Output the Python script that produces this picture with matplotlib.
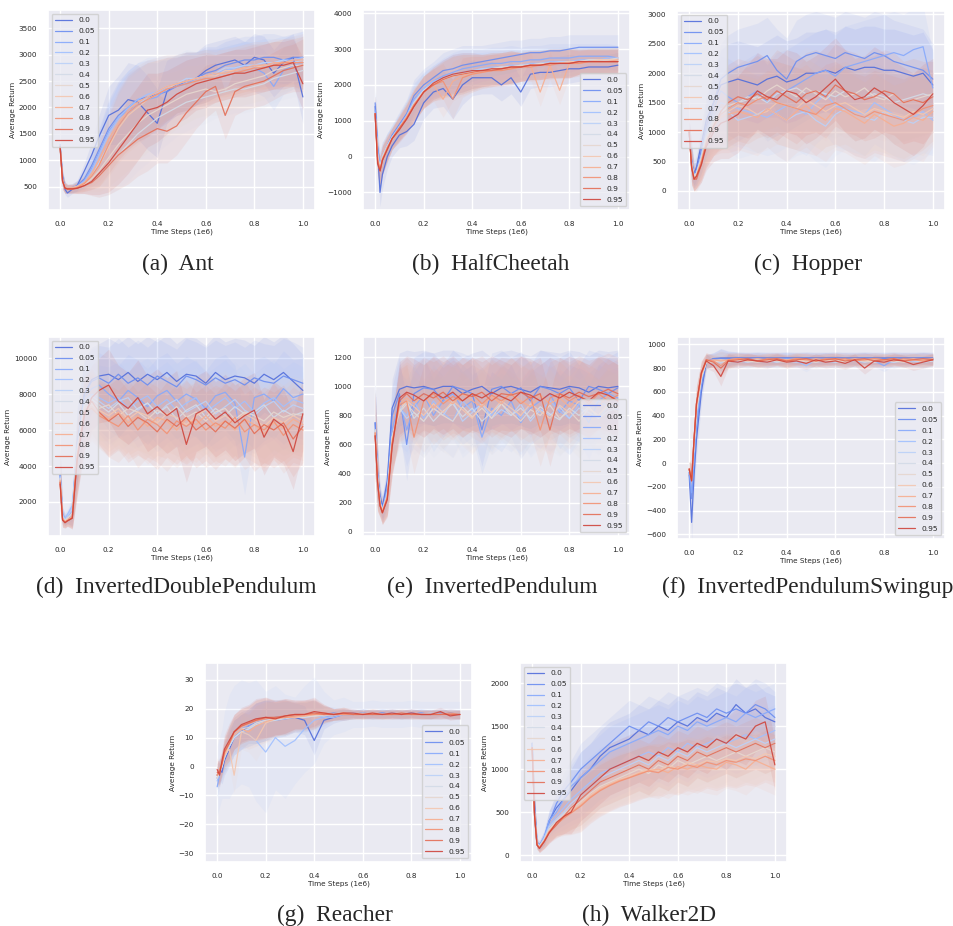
import numpy as np
import matplotlib
matplotlib.use("Agg")
import matplotlib.pyplot as plt
import seaborn as sns

sns.set_theme(style="darkgrid")
plt.rcParams['font.family'] = ['DejaVu Sans']

# training progress (1e6 steps) at which returns are logged
STEPS = [0, .01, .02, .03, .05, .07, .10, .13, .16, .20,
         .24, .28, .32, .36, .40, .44, .48, .52, .56, .60,
         .64, .68, .72, .76, .80, .84, .88, .92, .96, 1.0]

COEFS = ["0.0", "0.05", "0.1", "0.2", "0.3", "0.4",
         "0.5", "0.6", "0.7", "0.8", "0.9", "0.95"]

# ---------------- Ant ----------------
ANT = [
    [1250, 700, 450, 380, 450, 520, 800, 1100, 1450, 1850, 1950, 2150, 2100, 1900, 1700, 2300, 2450, 2500, 2550, 2700, 2800, 2850, 2900, 2800, 2950, 2900, 2650, 2850, 2950, 2200],
    [1250, 650, 480, 450, 480, 520, 650, 900, 1200, 1600, 1850, 2000, 2150, 2200, 2250, 2300, 2400, 2500, 2550, 2650, 2700, 2800, 2850, 2900, 2900, 2950, 2950, 2900, 2950, 2950],
    [1300, 650, 480, 460, 470, 500, 620, 850, 1150, 1550, 1800, 1950, 2050, 2150, 2200, 2350, 2400, 2450, 2550, 2600, 2650, 2700, 2750, 2800, 2750, 2650, 2400, 2700, 2800, 2850],
    [1300, 620, 490, 470, 480, 510, 600, 800, 1100, 1500, 1800, 2000, 2150, 2250, 2300, 2350, 2450, 2500, 2550, 2600, 2650, 2700, 2750, 2800, 2800, 2850, 2850, 2900, 2900, 2950],
    [1250, 600, 480, 460, 470, 500, 560, 700, 950, 1300, 1650, 1900, 2050, 2200, 2300, 2400, 2450, 2550, 2550, 2600, 2650, 2750, 2750, 2800, 2800, 2850, 2850, 2900, 2850, 2900],
    [1200, 600, 480, 460, 460, 480, 520, 600, 700, 900, 1100, 1300, 1500, 1650, 1800, 1900, 2000, 2100, 2150, 2200, 2250, 2300, 2350, 2350, 2400, 2450, 2550, 2600, 2650, 2700],
    [1250, 620, 480, 460, 470, 500, 540, 650, 800, 1050, 1300, 1500, 1700, 1850, 1950, 2050, 2150, 2250, 2300, 2350, 2300, 2350, 2450, 2500, 2550, 2600, 2700, 2750, 2800, 2800],
    [1250, 600, 490, 470, 480, 500, 560, 700, 900, 1250, 1600, 1850, 2000, 2150, 2250, 2350, 2450, 2500, 2550, 2600, 2600, 2700, 2700, 2750, 2750, 2800, 2800, 2850, 2850, 2850],
    [1250, 600, 490, 470, 480, 500, 580, 750, 1000, 1400, 1700, 1950, 2100, 2200, 2300, 2400, 2450, 2500, 2550, 2600, 2650, 2650, 2700, 2750, 2800, 2800, 2850, 2850, 2900, 2900],
    [1250, 600, 480, 460, 460, 480, 560, 700, 900, 1300, 1650, 1900, 2050, 2150, 2250, 2350, 2400, 2450, 2500, 2550, 2550, 2600, 2650, 2700, 2750, 2750, 2800, 2850, 2850, 2850],
    [1250, 620, 470, 450, 450, 470, 520, 580, 700, 900, 1100, 1250, 1400, 1500, 1600, 1550, 1650, 1900, 2100, 2300, 2400, 1850, 2300, 2400, 2450, 2500, 2600, 2700, 2750, 2800],
    [1250, 600, 470, 460, 460, 470, 520, 600, 750, 950, 1200, 1450, 1700, 1950, 2000, 2100, 2250, 2350, 2450, 2500, 2550, 2600, 2650, 2650, 2700, 2750, 2800, 2800, 2850, 2450],
]
ANT_SPREAD = [50, 150, 100, 80, 80, 100, 150, 250, 400, 550, 650, 700, 700, 700, 650, 600, 550, 550, 500, 500, 450, 450, 450, 450, 450, 450, 450, 450, 450, 500]

# ---------------- HalfCheetah ----------------
CHEETAH = [
    [1400, 200, -1000, -500, 0, 300, 600, 700, 900, 1500, 1800, 1900, 1600, 2000, 2200, 2200, 2200, 2000, 2200, 1800, 2300, 2350, 2350, 2400, 2450, 2450, 2500, 2500, 2500, 2550],
    [1500, 300, -300, -100, 300, 600, 900, 1200, 1700, 2000, 2200, 2400, 2450, 2550, 2600, 2650, 2700, 2750, 2800, 2850, 2900, 2900, 2950, 2950, 3000, 3050, 3050, 3050, 3050, 3050],
    [1300, 200, -200, 0, 300, 550, 850, 1150, 1600, 1900, 2100, 2250, 2350, 2450, 2500, 2550, 2600, 2600, 2650, 2650, 2700, 2700, 2750, 2750, 2750, 2800, 2800, 2800, 2800, 2750],
    [1200, 100, -300, 0, 300, 550, 850, 1150, 1550, 1900, 2100, 2200, 2300, 2350, 2400, 2450, 2500, 2500, 2550, 2550, 2600, 2600, 2650, 2650, 2650, 2700, 2700, 2700, 2750, 2750],
    [1200, 0, -300, 0, 300, 550, 800, 1100, 1500, 1850, 2050, 2200, 2300, 2350, 2400, 2450, 2450, 2500, 2500, 2550, 2550, 2600, 2600, 2650, 2650, 2650, 2700, 2700, 2700, 2700],
    [1200, 0, -300, 0, 300, 500, 800, 1100, 1500, 1850, 2050, 2150, 2250, 2300, 2350, 2400, 2450, 2450, 2500, 2500, 2550, 2550, 2600, 2600, 2600, 2650, 2650, 2650, 2700, 2700],
    [1200, 0, -400, -50, 250, 500, 800, 1100, 1450, 1800, 2000, 2150, 2250, 2300, 2350, 2400, 2450, 2500, 2500, 2550, 2550, 2600, 2600, 2600, 2650, 2650, 2700, 2700, 2700, 2750],
    [1200, 0, -400, -50, 250, 500, 800, 1100, 1450, 1800, 2050, 2150, 2250, 2300, 2350, 2400, 2450, 2450, 2500, 2500, 2550, 2550, 2600, 2600, 2650, 2650, 2650, 2700, 2700, 2700],
    [1200, 0, -400, -50, 250, 500, 800, 1100, 1450, 1800, 2000, 1600, 2100, 2250, 2300, 2350, 2400, 2450, 2450, 2500, 2550, 1800, 2550, 1850, 2600, 2600, 2650, 2650, 2650, 2700],
    [1200, -100, -400, -100, 250, 500, 800, 1100, 1450, 1800, 2000, 2100, 1600, 2200, 2300, 2350, 2400, 2400, 2450, 2500, 2500, 2550, 2550, 2600, 2600, 2600, 2650, 2650, 2650, 2650],
    [1200, -100, -400, -100, 200, 500, 800, 1050, 1400, 1800, 2000, 2150, 2250, 2300, 2350, 2400, 2400, 2450, 2500, 2500, 2550, 2550, 2600, 2600, 2600, 2650, 2650, 2650, 2650, 2650],
    [1200, -200, -400, -100, 200, 500, 750, 1050, 1400, 1800, 2050, 2200, 2300, 2350, 2400, 2400, 2450, 2450, 2500, 2500, 2550, 2550, 2600, 2600, 2600, 2650, 2650, 2650, 2650, 2650],
]
CHEETAH_SPREAD = [500, 400, 400, 400, 350, 300, 350, 400, 450, 450, 450, 500, 550, 550, 500, 450, 450, 450, 450, 400, 400, 400, 400, 400, 400, 350, 350, 350, 350, 350]

# ---------------- Hopper ----------------
HOPPER = [
    [1000, 500, 300, 400, 800, 1200, 1500, 1800, 1850, 1900, 1850, 1800, 1900, 1950, 1850, 1900, 2000, 2000, 2050, 2000, 2100, 2050, 2100, 2100, 2050, 2050, 2000, 1950, 2000, 1800],
    [1000, 500, 250, 350, 700, 1100, 1500, 1900, 2000, 2100, 2150, 2200, 2300, 2050, 1900, 2200, 2300, 2350, 2300, 2250, 2350, 2300, 2250, 2350, 2300, 2200, 2150, 2100, 2050, 1900],
    [1000, 500, 300, 300, 600, 1000, 1400, 1700, 1600, 1500, 1600, 1700, 1500, 1650, 1700, 1800, 1900, 2000, 2050, 1950, 2100, 2150, 2200, 2250, 2300, 2350, 2300, 2400, 2450, 1750],
    [1000, 450, 250, 300, 600, 1000, 1300, 1500, 1450, 1400, 1350, 1300, 1250, 1350, 1450, 1400, 1300, 1500, 1650, 1450, 1400, 1350, 1300, 1500, 1400, 1300, 1200, 1250, 1350, 1200],
    [1000, 450, 250, 300, 600, 950, 1250, 1400, 1350, 1200, 1250, 1300, 1400, 1300, 1200, 1300, 1350, 1200, 1100, 1300, 1400, 1300, 1250, 1200, 1350, 1250, 1200, 1150, 1250, 1250],
    [1000, 450, 250, 300, 550, 900, 1200, 1350, 1400, 1500, 1550, 1600, 1500, 1650, 1700, 1750, 1650, 1700, 1650, 1600, 1700, 1550, 1600, 1650, 1600, 1500, 1550, 1600, 1650, 1600],
    [1000, 450, 250, 300, 550, 900, 1200, 1300, 1450, 1500, 1600, 1550, 1700, 1800, 1700, 1600, 1750, 1650, 1550, 1700, 1600, 1650, 1750, 1600, 1550, 1650, 1500, 1550, 1600, 1650],
    [1000, 450, 200, 250, 500, 850, 1150, 1300, 1350, 1450, 1400, 1300, 1350, 1500, 1450, 1400, 1550, 1450, 1350, 1450, 1500, 1400, 1300, 1400, 1350, 1300, 1250, 1350, 1300, 1400],
    [1000, 450, 200, 250, 500, 850, 1100, 1250, 1300, 1350, 1300, 1250, 1400, 1300, 1200, 1350, 1450, 1300, 1200, 1400, 1350, 1250, 1150, 1300, 1200, 1100, 1150, 1250, 1200, 1350],
    [1000, 400, 200, 250, 500, 800, 1100, 1300, 1400, 1500, 1450, 1550, 1600, 1500, 1450, 1400, 1350, 1300, 1450, 1500, 1400, 1300, 1250, 1350, 1300, 1250, 1200, 1300, 1400, 1450],
    [1000, 400, 200, 200, 450, 800, 1100, 1350, 1500, 1600, 1550, 1650, 1550, 1700, 1600, 1500, 1650, 1700, 1600, 1800, 1700, 1650, 1550, 1600, 1700, 1650, 1500, 1550, 1500, 1600],
    [1000, 400, 200, 250, 450, 750, 1000, 1150, 1200, 1300, 1500, 1700, 1600, 1550, 1700, 1650, 1500, 1600, 1750, 1900, 1700, 1550, 1600, 1750, 1650, 1500, 1400, 1300, 1450, 1650],
]
HOPPER_SPREAD = [200, 300, 200, 200, 300, 400, 500, 600, 650, 650, 650, 650, 650, 700, 700, 700, 700, 700, 700, 700, 700, 700, 700, 700, 700, 700, 700, 700, 700, 600]

# ---------------- InvertedDoublePendulum ----------------
DOUBLE = [
    [3500, 1200, 1000, 1100, 1200, 5000, 8000, 8800, 9000, 9100, 8800, 9200, 8700, 9100, 8800, 9200, 8700, 9100, 9000, 8600, 9200, 8800, 9000, 8900, 8600, 9100, 8800, 9200, 8700, 8200],
    [3500, 1300, 1000, 1100, 1300, 5200, 8000, 8700, 8900, 8600, 9100, 8600, 8900, 8500, 9000, 8700, 8400, 9000, 8800, 8500, 8900, 8600, 8800, 8500, 8900, 8700, 8600, 9000, 8800, 8600],
    [3500, 1300, 1100, 1200, 1500, 5000, 7800, 8300, 8500, 8000, 7600, 8200, 7800, 7300, 7900, 8200, 7600, 8000, 7700, 7200, 7900, 8100, 7500, 4500, 7800, 8000, 7600, 8300, 7800, 8000],
    [3400, 1300, 1100, 1300, 1800, 5200, 7600, 8000, 7800, 7500, 7800, 7200, 7600, 7900, 7300, 7700, 7100, 7500, 7800, 7000, 7400, 7800, 7200, 7600, 7000, 7500, 7800, 7300, 7700, 7500],
    [3400, 1200, 1000, 1200, 1600, 5000, 7500, 7900, 7600, 7200, 7600, 7800, 7100, 7500, 6900, 7400, 7700, 7000, 7300, 7600, 6900, 7300, 7700, 7100, 6800, 7300, 7600, 7000, 7400, 7200],
    [3300, 1200, 1000, 1100, 1400, 4800, 7400, 7700, 7400, 7000, 7500, 6800, 7200, 7500, 6900, 7300, 6600, 7100, 7400, 6700, 7200, 6800, 7300, 6900, 7000, 7400, 6700, 7100, 6800, 7000],
    [3300, 1100, 950, 1100, 1300, 4700, 7300, 7500, 7200, 7400, 6800, 7200, 7000, 6600, 7100, 6800, 7300, 6700, 7000, 6500, 7000, 7200, 6600, 7000, 6800, 6500, 7000, 6700, 6900, 6800],
    [3200, 1100, 900, 1000, 1200, 4600, 7200, 7400, 7100, 6800, 7200, 6600, 7000, 6800, 6400, 6900, 6700, 6300, 6800, 7100, 6500, 6800, 6400, 6900, 6600, 6200, 6700, 6400, 6800, 6500],
    [3200, 1100, 900, 1000, 1200, 4500, 7000, 7300, 6900, 6600, 7000, 6400, 6800, 6200, 6700, 6500, 6000, 6600, 6300, 6800, 6200, 6500, 6000, 6600, 6300, 5800, 6400, 6100, 6600, 6300],
    [3100, 1000, 900, 950, 1150, 4500, 7000, 7200, 6800, 6500, 6200, 6800, 6000, 6600, 6300, 5800, 6500, 6200, 6600, 6000, 6400, 6100, 6700, 5900, 6300, 6000, 6500, 5700, 6300, 6000],
    [3100, 1000, 850, 950, 1100, 4400, 6900, 7600, 7000, 6500, 6900, 6200, 6700, 6400, 5900, 6600, 6200, 6700, 6000, 6400, 5900, 6500, 6100, 6600, 5800, 6300, 6000, 6400, 5500, 6200],
    [3000, 1000, 850, 950, 1100, 4300, 6800, 7800, 8200, 8500, 7600, 7200, 7800, 6900, 7300, 6800, 7200, 5200, 6900, 7200, 6600, 7000, 6400, 6800, 7100, 5600, 6600, 6200, 4800, 6900],
]
DOUBLE_SPREAD = [1500, 400, 300, 300, 600, 2000, 2000, 1800, 1800, 2000, 2000, 2000, 2100, 2100, 2100, 2100, 2100, 2100, 2100, 2100, 2100, 2100, 2100, 2100, 2100, 2100, 2100, 2100, 2100, 2000]

# ---------------- InvertedPendulum ----------------
PENDULUM = [
    [750, 400, 250, 170, 350, 850, 980, 1000, 990, 1000, 980, 1000, 1000, 950, 980, 1000, 950, 990, 1000, 980, 960, 1000, 990, 980, 1000, 990, 960, 1000, 990, 1000],
    [750, 400, 220, 160, 300, 800, 950, 600, 950, 990, 980, 900, 1000, 980, 950, 700, 980, 1000, 950, 990, 900, 1000, 980, 950, 990, 900, 1000, 980, 950, 990],
    [700, 380, 220, 150, 280, 700, 900, 700, 850, 950, 800, 900, 950, 850, 900, 650, 850, 800, 900, 750, 850, 900, 950, 820, 900, 870, 750, 900, 950, 920],
    [700, 380, 200, 150, 280, 650, 850, 800, 900, 780, 900, 820, 760, 900, 830, 880, 800, 900, 850, 780, 880, 820, 900, 830, 780, 880, 840, 900, 860, 880],
    [700, 370, 200, 150, 250, 650, 850, 780, 820, 760, 850, 800, 900, 760, 820, 880, 780, 840, 800, 880, 760, 840, 800, 860, 780, 850, 820, 780, 860, 840],
    [700, 370, 200, 150, 250, 650, 830, 900, 780, 850, 760, 830, 880, 790, 850, 760, 820, 880, 800, 850, 780, 860, 810, 770, 850, 800, 860, 780, 830, 850],
    [700, 360, 200, 140, 250, 650, 820, 880, 820, 760, 850, 800, 760, 860, 790, 850, 780, 880, 820, 760, 840, 800, 870, 780, 830, 760, 850, 800, 870, 820],
    [680, 350, 190, 140, 240, 620, 850, 900, 860, 800, 880, 820, 900, 840, 780, 880, 820, 900, 850, 800, 880, 830, 780, 870, 820, 900, 850, 800, 880, 860],
    [680, 350, 190, 140, 240, 620, 880, 920, 880, 940, 850, 920, 880, 950, 900, 860, 930, 880, 950, 900, 860, 940, 880, 920, 860, 930, 900, 860, 940, 900],
    [680, 350, 180, 130, 230, 600, 870, 900, 650, 900, 950, 880, 930, 900, 950, 880, 940, 900, 950, 880, 930, 700, 920, 950, 900, 940, 880, 950, 900, 940],
    [660, 340, 180, 130, 230, 600, 900, 950, 900, 950, 920, 960, 900, 950, 930, 960, 900, 950, 940, 960, 920, 950, 700, 950, 920, 960, 930, 950, 980, 950],
    [660, 340, 180, 130, 220, 580, 920, 960, 940, 900, 960, 920, 960, 900, 950, 920, 960, 930, 900, 960, 940, 900, 950, 920, 960, 930, 900, 960, 940, 900],
]
PENDULUM_SPREAD = [300, 200, 80, 80, 120, 200, 250, 250, 250, 250, 250, 250, 250, 250, 250, 250, 250, 250, 250, 250, 250, 250, 250, 250, 250, 250, 250, 250, 250, 250]

# ---------------- InvertedPendulumSwingup ----------------
SWINGUP = [
    [-100, -500, -100, 200, 600, 850, 880, 885, 885, 885, 885, 885, 885, 885, 885, 885, 885, 885, 885, 885, 885, 885, 885, 885, 885, 885, 885, 885, 885, 885],
    [-80, -300, 0, 300, 650, 850, 880, 880, 880, 885, 880, 885, 880, 880, 885, 880, 885, 880, 880, 885, 880, 880, 885, 880, 880, 885, 880, 880, 885, 880],
    [-80, -250, 50, 350, 700, 860, 870, 860, 870, 880, 870, 880, 860, 870, 880, 870, 860, 870, 880, 870, 860, 870, 880, 860, 820, 870, 860, 870, 880, 870],
    [-60, -150, 100, 400, 700, 860, 860, 850, 870, 860, 850, 870, 860, 850, 870, 860, 820, 870, 860, 850, 870, 860, 850, 870, 860, 850, 870, 860, 850, 870],
    [-60, -100, 150, 450, 720, 850, 860, 820, 860, 850, 870, 860, 850, 870, 860, 850, 870, 850, 860, 870, 850, 860, 870, 850, 860, 850, 870, 860, 850, 860],
    [-60, -100, 150, 450, 720, 850, 860, 850, 860, 870, 850, 860, 870, 850, 860, 870, 850, 860, 870, 850, 860, 870, 850, 860, 870, 850, 860, 870, 850, 860],
    [-60, -100, 150, 450, 720, 850, 850, 860, 850, 870, 860, 850, 870, 860, 850, 870, 860, 850, 870, 860, 850, 870, 860, 850, 870, 860, 850, 870, 860, 870],
    [-60, -120, 150, 450, 730, 860, 860, 870, 860, 870, 860, 870, 860, 870, 860, 870, 860, 870, 860, 870, 860, 870, 860, 870, 860, 870, 860, 870, 860, 870],
    [-50, -120, 200, 500, 750, 860, 870, 860, 870, 880, 870, 880, 870, 880, 870, 880, 870, 880, 870, 880, 870, 880, 870, 880, 870, 880, 870, 880, 870, 880],
    [-50, -150, 200, 500, 750, 870, 860, 820, 870, 880, 870, 860, 880, 870, 860, 880, 870, 860, 880, 870, 880, 860, 870, 880, 870, 860, 880, 870, 860, 870],
    [-50, -150, 200, 500, 760, 870, 850, 800, 860, 870, 880, 860, 870, 880, 860, 870, 880, 860, 870, 880, 860, 870, 880, 860, 870, 880, 860, 870, 880, 870],
    [-50, -150, 200, 500, 760, 860, 820, 730, 860, 850, 870, 860, 850, 870, 850, 860, 840, 870, 850, 860, 840, 870, 800, 860, 850, 870, 860, 830, 850, 870],
]
SWINGUP_SPREAD = [60, 150, 150, 150, 100, 60, 50, 80, 60, 50, 50, 50, 50, 50, 50, 50, 50, 50, 50, 50, 50, 50, 50, 50, 50, 50, 50, 50, 50, 50]

# ---------------- Reacher ----------------
REACHER = [
    [-3, -1, -2, 2, 6, 10, 12, 14, 15, 16, 16, 16.5, 17, 16, 9, 16, 17, 18, 18, 18.5, 18, 18.5, 18, 18, 18.5, 18, 18, 18.5, 18, 18],
    [-4, -2, 0, 3, 7, 10, 12, 13, 15, 16, 17, 17, 17.5, 17, 18, 18, 18.5, 18, 18, 18.5, 18, 18, 18.5, 18, 18, 18.5, 18, 18, 18.5, 18],
    [-7, -3, 1, 4, 8, 11, 13, 14, 15, 16, 17, 17, 17, 17.5, 18, 17, 18, 18, 18.5, 18, 18, 18.5, 18, 18, 18, 18.5, 18, 18, 18, 18],
    [-5, -2, 1, 4, 7, 10, 12, 11, 9, 5, 10, 7, 9, 13, 16, 17, 17, 18, 18, 18, 18.5, 18, 18, 18, 18.5, 18, 18, 18, 18, 18],
    [-4, -2, 0, 3, 7, 10, 12, 13, 15, 16, 16, 17, 17, 17, 17.5, 18, 18, 18, 18.5, 18, 18, 18, 18.5, 18, 18, 18, 18.5, 18, 18, 18],
    [-4, -2, 0, 3, 7, 10, 12, 13, 14.5, 15.5, 16, 16.5, 17, 17, 17.5, 17.5, 18, 18, 18, 18, 18, 18, 18, 18, 18, 18, 18, 18, 18, 18],
    [-4, -2, 0, 4, 8, 11, 13, 13.5, 15, 16, 16.5, 17, 17, 17.5, 17.5, 18, 18, 18, 18, 18.5, 18, 18, 18, 18, 18, 18, 18, 18, 18, 18],
    [-3, -2, 1, 4, 6, -3, 12, 11, 9, 15, 16.5, 17, 17.5, 17.5, 18, 18, 18, 18.5, 18, 18, 18, 18, 18, 18, 18, 18, 18, 18, 18, 18],
    [-3, -1, 1, 4, 8, 11, 13, 12, 14, 15.5, 16.5, 17, 17, 17.5, 18, 18, 18, 18, 18, 18, 18.5, 18, 18, 18, 18, 18, 18, 18, 18, 18],
    [-3, -1, 1, 5, 8, 12, 14, 15, 16, 16.5, 17, 17, 17.5, 18, 18, 18.5, 18, 18, 18, 18, 18, 18, 18, 18, 18, 18, 18, 18, 18.5, 18],
    [-2, -2, 1, 5, 8, 12, 14, 15, 16, 17, 17, 17.5, 18, 18, 18.5, 18, 18, 18.5, 18, 18, 18, 18, 18, 18.5, 18, 18, 18, 18, 18, 18],
    [-1, -3, 2, 6, 9, 12, 14.5, 15.5, 16.5, 17, 16.5, 17.5, 18, 18, 19, 18.5, 18, 18.5, 18.5, 18, 18.5, 18, 18.5, 18, 18.5, 18, 18, 19, 17.5, 18],
]
REACHER_SPREAD = [4, 4, 4, 5, 6, 6, 6, 6, 7, 7, 6, 6, 5, 5, 5, 3, 2, 2, 1.5, 1.5, 1.5, 1.5, 1.5, 1.5, 1.5, 1.5, 1.5, 1.5, 1.5, 1.5]
REACHER_WIDTH = [1, 1, 1, 3, 1, 1, 1, 1, 1, 1, 1, 1]

# ---------------- Walker2D ----------------
WALKER = [
    [1300, 600, 150, 120, 200, 400, 550, 650, 750, 900, 1000, 1150, 1250, 1300, 1350, 1450, 1400, 1500, 1450, 1550, 1500, 1600, 1550, 1650, 1600, 1750, 1650, 1700, 1600, 1550],
    [1300, 500, 130, 100, 200, 380, 600, 750, 850, 1000, 1100, 1200, 1300, 1400, 1500, 1450, 1550, 1500, 1600, 1550, 1600, 1650, 1600, 1700, 1650, 1700, 1650, 1750, 1700, 1600],
    [1300, 500, 150, 110, 220, 400, 500, 650, 800, 900, 1000, 1100, 1200, 1250, 1300, 1350, 1400, 1450, 1400, 1500, 1450, 1550, 1500, 1550, 1600, 1550, 1650, 1600, 1650, 1700],
    [1300, 500, 150, 110, 200, 350, 450, 550, 650, 750, 850, 950, 1000, 1050, 1100, 1150, 1200, 1150, 1250, 1200, 1300, 1250, 1300, 1350, 1300, 1350, 1400, 1350, 1400, 1450],
    [1250, 480, 140, 100, 200, 330, 420, 500, 600, 700, 800, 900, 950, 1000, 1050, 1100, 1050, 1150, 1100, 1200, 1150, 1250, 1200, 1250, 1300, 1250, 1300, 1350, 1300, 1350],
    [1250, 480, 140, 100, 180, 300, 400, 480, 560, 650, 750, 850, 900, 950, 1000, 1050, 1000, 1100, 1050, 1150, 1100, 1200, 1150, 1200, 1250, 1200, 1250, 1300, 1250, 1300],
    [1250, 480, 130, 100, 180, 300, 380, 460, 540, 620, 720, 800, 850, 900, 950, 1000, 950, 1050, 1000, 1100, 1050, 1100, 1150, 1100, 1150, 1200, 1150, 1200, 1250, 1200],
    [1250, 470, 130, 90, 170, 280, 370, 450, 520, 600, 700, 780, 830, 880, 920, 960, 1000, 980, 1050, 1000, 1080, 1050, 1100, 1080, 1120, 1100, 1150, 1120, 1180, 1150],
    [1250, 470, 130, 90, 170, 280, 370, 440, 500, 580, 680, 760, 820, 870, 900, 950, 980, 1000, 960, 1030, 1000, 1050, 1020, 1000, 1080, 1050, 1000, 1100, 1050, 1000],
    [1250, 460, 120, 90, 160, 270, 360, 430, 490, 570, 670, 750, 810, 860, 900, 940, 980, 960, 1020, 1000, 1050, 1020, 1080, 1050, 1100, 1080, 1120, 1100, 1150, 1100],
    [1250, 460, 120, 80, 160, 260, 350, 450, 550, 650, 750, 850, 900, 950, 1000, 1050, 1000, 1100, 1050, 1150, 1100, 1200, 1150, 1200, 1250, 1200, 1250, 1300, 1250, 1300],
    [1250, 460, 120, 80, 160, 260, 380, 450, 500, 700, 800, 900, 1000, 1050, 1100, 1150, 1100, 1200, 1150, 1250, 1200, 1300, 1250, 1350, 1300, 1400, 1350, 1500, 1550, 1050],
]
WALKER_SPREAD = [100, 200, 50, 50, 80, 120, 150, 200, 250, 300, 300, 300, 300, 300, 300, 300, 300, 300, 300, 300, 300, 300, 300, 300, 300, 300, 300, 300, 300, 300]

W, H = 954, 926
fig = plt.figure(figsize=(W / 100, H / 100), dpi=100)

# (means, spread, per-line band width, caption, ylim, ytick step, legend loc, axes box px, caption centre px)
PANELS = [
    (ANT, ANT_SPREAD, None, "(a)  Ant", (58, 3847), 500, "upper left", (48, 10, 315, 210), (178, 264)),
    (CHEETAH, CHEETAH_SPREAD, None, "(b)  HalfCheetah", (-1490, 4090), 1000, "lower right", (363, 10, 630, 210), (491, 264)),
    (HOPPER, HOPPER_SPREAD, None, "(c)  Hopper", (-324, 3057), 500, "upper left", (677, 11, 945, 210), (808, 264)),
    (DOUBLE, DOUBLE_SPREAD, None, "(d)  InvertedDoublePendulum", (110, 11170), 2000, "upper left", (48, 337, 315, 536), (176, 587)),
    (PENDULUM, PENDULUM_SPREAD, None, "(e)  InvertedPendulum", (-30, 1340), 200, "lower right", (363, 337, 630, 536), (492, 587)),
    (SWINGUP, SWINGUP_SPREAD, None, "(f)  InvertedPendulumSwingup", (-640, 1062), 200, "lower right", (677, 337, 945, 539), (808, 587)),
    (REACHER, REACHER_SPREAD, REACHER_WIDTH, "(g)  Reacher", (-33, 35.8), 10, "lower right", (205, 663, 472, 862), (335, 915)),
    (WALKER, WALKER_SPREAD, None, "(h)  Walker2D", (-78, 2233), 500, "upper left", (520, 663, 787, 862), (649, 915)),
]

colors = sns.color_palette("coolwarm", len(COEFS))
x = np.array(STEPS)

for means, spread, widths, caption, ylim, ystep, loc, box, cpos in PANELS:
    x0, y0, x1, y1 = box
    ax = fig.add_axes([x0 / W, 1 - y1 / H, (x1 - x0) / W, (y1 - y0) / H])
    sp = np.array(spread, dtype=float)
    for i, (label, m) in enumerate(zip(COEFS, means)):
        m = np.array(m, dtype=float)
        k = 1.0 if widths is None else widths[i]
        ax.fill_between(x, m - k * sp, m + k * sp, color=colors[i], alpha=0.09, lw=0)
    for i, (label, m) in enumerate(zip(COEFS, means)):
        ax.plot(x, m, color=colors[i], lw=0.9, alpha=0.9, label=label)
    ax.set_xlim(-0.05, 1.05)
    ax.set_ylim(*ylim)
    ax.set_xticks(np.arange(0, 1.01, 0.2))
    lo = np.ceil(ylim[0] / ystep) * ystep
    ax.set_yticks(np.arange(lo, ylim[1], ystep))
    ax.tick_params(labelsize=5.2, pad=2)
    ax.set_xlabel("Time Steps (1e6)", fontsize=5.2, labelpad=1)
    ax.set_ylabel("Average Return", fontsize=5.2, labelpad=2)
    ax.legend(loc=loc, fontsize=5.4, handlelength=2.3, labelspacing=0.62,
              borderpad=0.45, handletextpad=0.8)
    fig.text(cpos[0] / W, 1 - cpos[1] / H, caption, ha="center", va="center",
             fontsize=16.8, family=["Liberation Serif", "DejaVu Serif"])

fig.savefig("out.png", dpi=100)
